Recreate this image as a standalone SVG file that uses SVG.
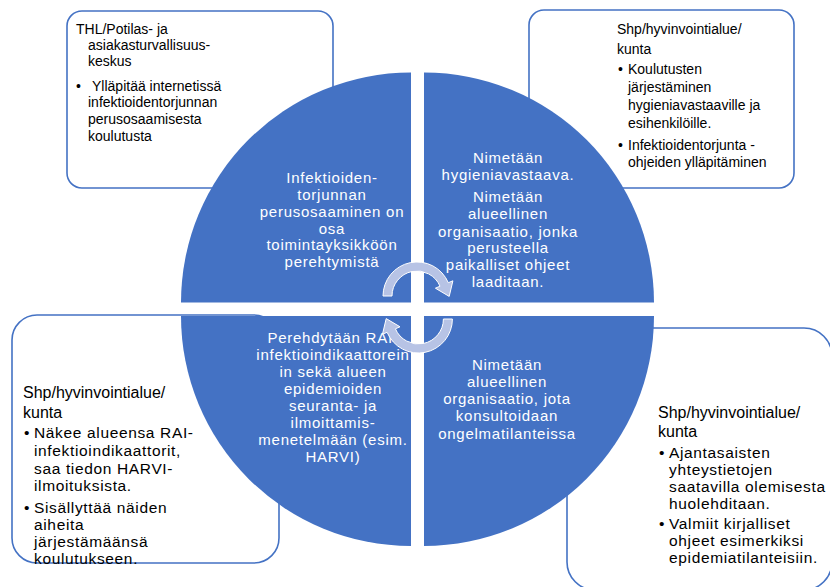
<svg xmlns="http://www.w3.org/2000/svg" width="830" height="587" viewBox="0 0 830 587">
<style>
.box{fill:#FFFFFF;stroke:#4472C4;stroke-width:1.6}
.quad{fill:#4472C4}
.tb{font-family:"Liberation Sans",Arial,sans-serif;font-size:14px;fill:#000}
.bh{font-family:"Liberation Sans",Arial,sans-serif;font-size:16px;fill:#000}
.bb{font-family:"Liberation Sans",Arial,sans-serif;font-size:15.5px;letter-spacing:0.65px;fill:#000}
.qt{font-family:"Liberation Sans",Arial,sans-serif;font-size:15px;letter-spacing:0.75px;fill:#FFFFFF;text-anchor:middle}
.arr{fill:#B7C3E5;stroke:#FFFFFF;stroke-width:1}
</style>
<defs>
<clipPath id="clipBL"><path d="M411,316 L411,546 A230,230 0 0 1 181,316 Z"/></clipPath>
<path id="cycleArrow" d="M383,296 A34,34 0 0 1 448.3,282.7 L452.9,280.8 L449.2,296.4 L435.4,288.2 L440,286.2 A25,25 0 0 0 392,296 Z"/>
</defs>
<rect width="830" height="587" fill="#FFFFFF"/>

<g id="box-thl">
<rect class="box" x="67" y="11" width="266" height="177" rx="15"/>
<text class="tb" x="76" y="34">THL/Potilas- ja</text>
<text class="tb" x="88" y="50">asiakasturvallisuus-</text>
<text class="tb" x="88" y="66">keskus</text>
<text class="tb" x="76" y="91">•</text>
<text class="tb" x="92" y="91">Ylläpitää internetissä</text>
<text class="tb" x="88" y="107">infektioidentorjunnan</text>
<text class="tb" x="88" y="124">perusosaamisesta</text>
<text class="tb" x="88" y="141">koulutusta</text>
</g>

<g id="box-top-right">
<rect class="box" x="529" y="10" width="265" height="178" rx="15"/>
<text class="tb" x="617" y="34">Shp/hyvinvointialue/</text>
<text class="tb" x="617" y="54">kunta</text>
<text class="tb" x="618" y="74">•</text>
<text class="tb" x="628" y="74">Koulutusten</text>
<text class="tb" x="628" y="92">järjestäminen</text>
<text class="tb" x="628" y="110">hygieniavastaaville ja</text>
<text class="tb" x="628" y="128">esihenkilöille.</text>
<text class="tb" x="618" y="150">•</text>
<text class="tb" x="628" y="150">Infektioidentorjunta -</text>
<text class="tb" x="628" y="167">ohjeiden ylläpitäminen</text>
</g>

<g id="box-bottom-left">
<rect class="box" x="12" y="315" width="267" height="248" rx="25"/>
<text class="bh" x="23" y="398">Shp/hyvinvointialue/</text>
<text class="bh" x="23" y="418">kunta</text>
<text class="bb" x="24" y="438">•</text>
<text class="bb" x="34" y="438">Näkee alueensa RAI-</text>
<text class="bb" x="34" y="456">infektioindikaattorit,</text>
<text class="bb" x="34" y="474">saa tiedon HARVI-</text>
<text class="bb" x="34" y="491">ilmoituksista.</text>
<text class="bb" x="24" y="513">•</text>
<text class="bb" x="34" y="513">Sisällyttää näiden</text>
<text class="bb" x="34" y="530">aiheita</text>
<text class="bb" x="34" y="547">järjestämäänsä</text>
<text class="bb" x="34" y="564">koulutukseen.</text>
</g>

<g id="box-bottom-right">
<rect class="box" x="567" y="328" width="265" height="262" rx="28"/>
<text class="bh" x="658" y="418">Shp/hyvinvointialue/</text>
<text class="bh" x="658" y="437">kunta</text>
<text class="bb" x="659" y="458">•</text>
<text class="bb" x="669" y="458">Ajantasaisten</text>
<text class="bb" x="669" y="475">yhteystietojen</text>
<text class="bb" x="669" y="492">saatavilla olemisesta</text>
<text class="bb" x="669" y="509">huolehditaan.</text>
<text class="bb" x="659" y="529">•</text>
<text class="bb" x="669" y="529">Valmiit kirjalliset</text>
<text class="bb" x="669" y="546">ohjeet esimerkiksi</text>
<text class="bb" x="669" y="563">epidemiatilanteisiin.</text>
</g>

<g id="quadrant-top-left">
<path class="quad" d="M411,302.5 L181,302.5 A230,230 0 0 1 411,72.5 Z"/>
<text class="qt" x="332" y="183">Infektioiden-</text>
<text class="qt" x="332" y="200">torjunnan</text>
<text class="qt" x="332" y="217">perusosaaminen on</text>
<text class="qt" x="332" y="234">osa</text>
<text class="qt" x="332" y="250">toimintayksikköön</text>
<text class="qt" x="332" y="267">perehtymistä</text>
</g>

<g id="quadrant-top-right">
<path class="quad" d="M424,302.5 L424,72.5 A230,230 0 0 1 654,302.5 Z"/>
<text class="qt" x="508" y="163">Nimetään</text>
<text class="qt" x="508" y="180">hygieniavastaava.</text>
<text class="qt" x="508" y="202">Nimetään</text>
<text class="qt" x="508" y="219">alueellinen</text>
<text class="qt" x="508" y="237">organisaatio, jonka</text>
<text class="qt" x="508" y="253">perusteella</text>
<text class="qt" x="508" y="270">paikalliset ohjeet</text>
<text class="qt" x="508" y="287">laaditaan.</text>
</g>

<g id="quadrant-bottom-left">
<path class="quad" d="M411,316 L411,546 A230,230 0 0 1 181,316 Z"/>
<g clip-path="url(#clipBL)">
<text class="qt" x="333" y="343">Perehdytään RAI-</text>
<text class="qt" x="333" y="360">infektioindikaattorein</text>
<text class="qt" x="333" y="377">in sekä alueen</text>
<text class="qt" x="333" y="394">epidemioiden</text>
<text class="qt" x="333" y="411">seuranta- ja</text>
<text class="qt" x="333" y="428">ilmoittamis-</text>
<text class="qt" x="333" y="445">menetelmään (esim.</text>
<text class="qt" x="333" y="462">HARVI)</text>
</g>
</g>

<g id="quadrant-bottom-right">
<path class="quad" d="M424,316 L654,316 A230,230 0 0 1 424,546 Z"/>
<text class="qt" x="507" y="370">Nimetään</text>
<text class="qt" x="507" y="387">alueellinen</text>
<text class="qt" x="507" y="404">organisaatio, jota</text>
<text class="qt" x="507" y="421">konsultoidaan</text>
<text class="qt" x="507" y="439">ongelmatilanteissa</text>
</g>

<g id="connectors">
<use href="#cycleArrow" class="arr"/>
<use href="#cycleArrow" class="arr" transform="rotate(180 417.7 307.5)"/>
</g>
</svg>
